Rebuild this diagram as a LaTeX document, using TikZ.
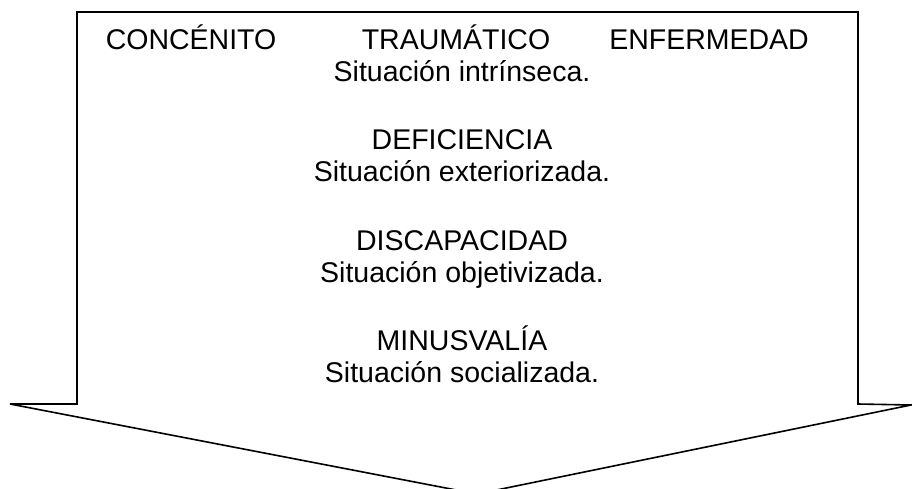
\documentclass[tikz,border=0pt]{standalone}
\usepackage{fontspec}
\setmainfont{Liberation Sans}
\begin{document}
\begin{tikzpicture}[x=1pt,y=-1pt,
  txt/.style={font=\fontsize{28.5}{32}\selectfont, inner sep=0pt, anchor=base},
  shapeline/.style={draw=black, line width=1.6pt, line join=miter}]
\useasboundingbox (0,0) rectangle (912,489);
\begin{scope}
\clip (0,0) rectangle (912,489);
\coordinate (tl) at (77,12);
\coordinate (tr) at (858,12);
\coordinate (br) at (858,404);
\coordinate (rw) at (911,405);
\coordinate (tip) at (477,494);
\coordinate (lw) at (10,404);
\coordinate (bl) at (77,404);
\draw[shapeline] (tl) -- (tr) -- (br) -- (rw) -- (tip) -- (lw) -- (bl) -- cycle;
\end{scope}
\node[txt] (c1) at (191,50) {CONCÉNITO};
\node[txt] (c2) at (456,50) {TRAUMÁTICO};
\node[txt] (c3) at (709,50) {ENFERMEDAD};
\node[txt] (s1) at (462,82) {Situación intrínseca.};
\node[txt] (d1) at (462,150) {DEFICIENCIA};
\node[txt] (s2) at (462,182) {Situación exteriorizada.};
\node[txt] (d2) at (462,250) {DISCAPACIDAD};
\node[txt] (s3) at (462,282) {Situación objetivizada.};
\node[txt] (d3) at (462,350) {MINUSVALÍA};
\node[txt] (s4) at (462,382) {Situación socializada.};
\end{tikzpicture}
\end{document}
